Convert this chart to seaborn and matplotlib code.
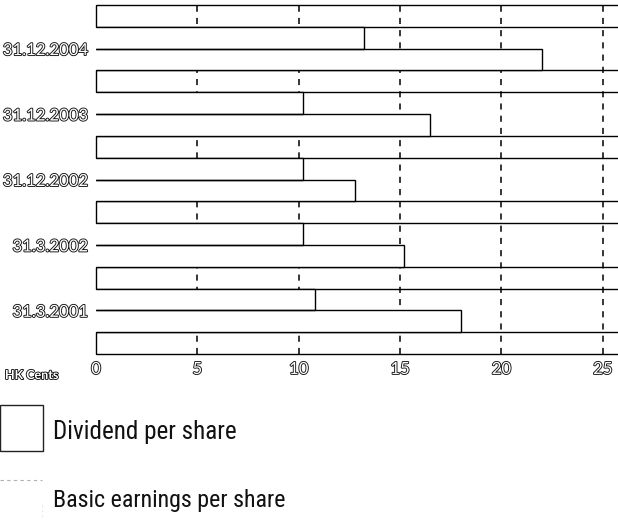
import numpy as np
import pandas as pd
import matplotlib
matplotlib.use("Agg")
import matplotlib.pyplot as plt
import matplotlib.patheffects as pe
from matplotlib.patches import Rectangle
from matplotlib.lines import Line2D
from matplotlib import font_manager
import seaborn as sns

# Per-share figures in HK cents, newest period first
dates = ["31.12.2004", "31.12.2003", "31.12.2002", "31.3.2002", "31.3.2001"]
dividend = [13.2, 10.2, 10.2, 10.2, 10.8]
earnings = [22.0, 16.5, 12.8, 15.2, 18.0]
series_names = ["Dividend per share", "Basic earnings per share"]
x_ticks = [0, 5, 10, 15, 20, 25]
unit_label = "HK Cents"

sns.set_theme(style="white")
plt.rcParams["font.family"] = ["Lato", "DejaVu Sans"]


def narrow_family():
    """Pick a narrow sans face for the legend if one is installed."""
    names = {f.name for f in font_manager.fontManager.ttflist}
    for cand in ["Liberation Sans Narrow", "Roboto Condensed", "Open Sans Condensed"]:
        if cand in names:
            return cand, "normal"
    for f in font_manager.fontManager.ttflist:
        if f.name == "DejaVu Sans" and str(f.stretch) in ("condensed", "semi-condensed"):
            return "DejaVu Sans", "condensed"
    return "Lato", "normal"


W, H = 618, 520
fig = plt.figure(figsize=(W / 100, H / 100), dpi=100)
fig.patch.set_facecolor("white")

# plot area in pixel terms: left 96, right 618, top 5, bottom 354
ax = fig.add_axes([96 / W, 1 - 354 / H, (W - 96) / W, (354 - 5) / H])
ax.set_facecolor("white")

# each period takes three rows: a blank row, the dividend bar, the earnings bar
n = len(dates)
div_rows = np.arange(n) * 3 + 1
eps_rows = div_rows + 1
gap_rows = np.arange(n + 1) * 3

df = pd.DataFrame({
    "value": dividend + earnings,
    "row": list(div_rows) + list(eps_rows),
    "series": [series_names[0]] * n + [series_names[1]] * n,
})

sns.barplot(data=df, x="value", y="row", hue="series", orient="y",
            native_scale=True, dodge=False, width=1.0,
            palette=["white", "white"], saturation=1,
            edgecolor="none", linewidth=0, errorbar=None,
            legend=False, ax=ax, zorder=3)

# outline each bar on its top, end and bottom only (the base sits on the axis)
for bar in ax.patches:
    x0, y0 = bar.get_x(), bar.get_y()
    w, h = bar.get_width(), bar.get_height()
    ax.add_line(Line2D([x0, x0 + w, x0 + w, x0], [y0, y0, y0 + h, y0 + h],
                       color="black", linewidth=1.0, zorder=4,
                       solid_joinstyle="miter"))

# blank rows framed on the left, running off the right edge
for r in gap_rows:
    ax.axhspan(r - 0.5, r + 0.5, xmin=0, xmax=1.05, facecolor="none",
               edgecolor="black", linewidth=1.0, clip_on=False, zorder=2)

# dashed reference lines, hidden behind the bars
for v in x_ticks[1:]:
    ax.axvline(v, color="black", linewidth=1.1, linestyle=(0, (4, 4)), zorder=1)

ax.set_xlim(0, (W - 96) / 20.27)
ax.set_ylim(gap_rows[-1] + 0.5, -0.5)
for s in ax.spines.values():
    s.set_visible(False)
ax.grid(False)
ax.set_xlabel("")
ax.set_ylabel("")

# hollow lettering: white glyphs with a thin dark rim
outline = [pe.withStroke(linewidth=1.3, foreground="#111111")]

ax.set_yticks(div_rows + 0.5)
ax.set_yticklabels(dates)
ax.set_xticks(x_ticks)
ax.set_xticklabels([str(t) for t in x_ticks])
ax.tick_params(axis="both", length=0, labelsize=12, labelcolor="white")
ax.tick_params(axis="y", pad=6)
ax.tick_params(axis="x", pad=5)
for lab in ax.get_yticklabels() + ax.get_xticklabels():
    lab.set_path_effects(outline)

fig.text(5 / W, 1 - 375 / H, unit_label, fontsize=9, fontweight="bold",
         color="white", va="center", ha="left", path_effects=outline)

# legend swatches and labels below the chart
fig.add_artist(Rectangle((0, 1 - 451 / H), 43 / W, 46 / H, transform=fig.transFigure,
                         fill=False, edgecolor="#222222", linewidth=1.0))
fig.add_artist(Line2D([0, 42 / W], [1 - 480 / H, 1 - 480 / H],
                      transform=fig.transFigure, color="#b0b0b0",
                      linewidth=0.8, linestyle=(0, (3, 3))))
fig.add_artist(Line2D([42 / W, 42 / W], [1 - 505 / H, 1 - 520 / H],
                      transform=fig.transFigure, color="#dddddd",
                      linewidth=0.6, linestyle=(0, (2, 4))))

fam, stretch = narrow_family()
legend_specs = [(series_names[0], 432, 185), (series_names[1], 501, 234)]
fig.canvas.draw()
renderer = fig.canvas.get_renderer()
for label, yc, target_w in legend_specs:
    t = fig.text(53 / W, 1 - yc / H, label, fontsize=16, color="#111111",
                 va="center", ha="left", family=[fam, "DejaVu Sans"],
                 fontstretch=stretch)
    w = t.get_window_extent(renderer).width
    t.set_fontsize(16 * target_w / w)

fig.savefig("out.png", dpi=100, facecolor="white")
